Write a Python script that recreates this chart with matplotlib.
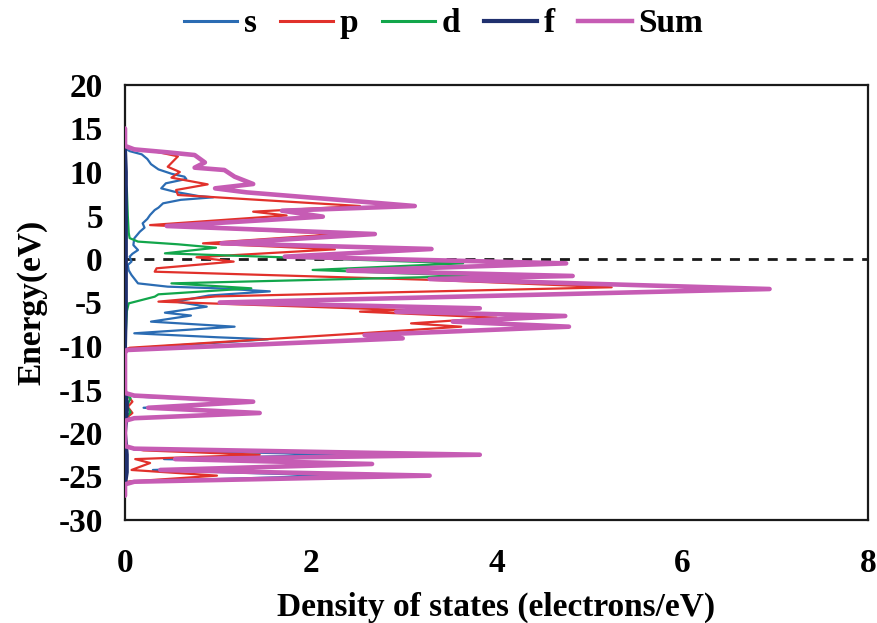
import matplotlib
matplotlib.use("Agg")
import matplotlib.pyplot as plt
from matplotlib.lines import Line2D

plt.rcParams['font.family'] = ['Liberation Serif', 'DejaVu Serif']
plt.rcParams['font.weight'] = 'bold'
plt.rcParams['axes.unicode_minus'] = False

# ---- partial densities of states (energy in eV, DOS in electrons/eV) ----
s_energy = [12.9, 12.6, 12.4, 12.03, 11.5, 10.9, 10.3, 9.8, 9.46, 9.2, 8.7, 8.12,
            7.74, 7.24, 7.09, 6.8, 6.4, 5.9, 5.63, 5.06, 4.6, 4.1, 3.6, 3.14,
            2.38, 1.6, 1.03, 0.6, 0.27, -0.3, -0.69, -1.3, -1.84, -2.8, -3.18,
            -3.37, -3.72, -4.2, -4.9, -5.48, -6.17, -6.5, -7.2, -7.78,
            -8.54, -9.0, -9.23, -10.3, -10.6,
            -15.4, -15.8, -16.4, -17.1, -17.7, -18.3, -18.6,
            -21.5, -21.9, -22.5, -23.0, -23.56, -24.25, -24.9, -25.6, -25.9]
s_dos = [0.0, 0.02, 0.05, 0.18, 0.24, 0.28, 0.36, 0.50, 0.64, 0.66, 0.44, 0.39,
         0.53, 0.79, 0.95, 0.60, 0.41, 0.36, 0.32, 0.27, 0.24, 0.19, 0.21, 0.16,
         0.10, 0.09, 0.14, 0.08, 0.05, 0.07, 0.03, 0.04, 0.07, 0.14, 0.46,
         1.0, 1.56, 0.9, 0.55, 0.88, 0.43, 0.71, 0.28, 1.18,
         0.10, 1.0, 1.54, 0.03, 0.0,
         0.0, 0.1, 1.3, 0.2, 1.35, 0.05, 0.0,
         0.0, 0.1, 2.3, 0.42, 2.5, 0.30, 2.25, 0.05, 0.0]

p_energy = [12.8, 12.3, 11.8, 10.6, 10.0, 9.35, 8.58, 7.93, 7.36, 6.09, 5.44, 5.0,
            3.9, 2.87, 1.8, 1.11, 0.2, -0.3, -1.07, -1.46, -2.4, -3.25, -4.3, -4.9,
            -5.86, -6.05, -6.74, -7.4, -7.78, -8.54, -10.2, -10.5,
            -15.5, -16.0, -16.4, -17.0, -17.7, -18.4,
            -21.6, -22.0, -22.5, -23.0, -23.45, -24.25, -24.9, -25.6, -26.0]
p_dos = [0.0, 0.35, 0.57, 0.46, 0.59, 0.50, 0.89, 0.55, 0.57, 2.53, 1.38, 1.74,
         0.27, 2.3, 0.84, 2.26, 0.77, 1.17, 0.34, 0.32, 3.3, 5.24, 0.98, 0.36,
         3.0, 2.53, 4.0, 3.08, 3.62, 2.54, 0.05, 0.0,
         0.0, 0.05, 0.08, 0.03, 0.08, 0.0,
         0.0, 0.2, 1.45, 0.11, 0.27, 0.07, 0.99, 0.02, 0.0]

d_energy = [9.0, 8.0, 5.0, 3.0, 2.4, 2.0, 1.69, 1.3, 0.65, -0.5, -1.26, -1.95,
            -2.8, -3.37, -4.06, -4.33, -5.1, -6.0, -10.4,
            -15.6, -16.0, -16.9, -17.6, -18.3]
d_dos = [0.0, 0.02, 0.03, 0.04, 0.05, 0.14, 0.57, 0.98, 0.43, 3.64, 2.02, 3.77,
         0.50, 1.36, 0.36, 0.32, 0.04, 0.02, 0.0,
         0.0, 0.06, 0.02, 0.06, 0.0]

f_energy = [12.9, 10.0, 5.0, 0.0, -5.0, -10.5, -15.0, -16.5, -17.5, -20.0,
            -22.5, -24.5, -26.0]
f_dos = [0.0, 0.01, 0.01, 0.01, 0.01, 0.0, 0.0, 0.02, 0.02, 0.0,
         0.02, 0.02, 0.0]

sum_energy = [15.0, 13.0, 12.6, 12.26, 11.95, 11.1, 10.5, 10.23, 9.46, 8.62, 8.12,
              7.66, 6.09, 5.55, 4.87, 3.79, 2.87, 1.80, 1.15, 0.27, -0.50, -1.34,
              -1.95, -2.30, -3.45, -5.00, -5.67, -6.05, -6.55, -7.20, -7.78, -8.74,
              -9.12, -10.46, -10.8,
              -15.4, -15.7, -16.4, -17.1, -17.7, -18.3, -18.6,
              -21.5, -21.8, -22.5, -23.0, -23.56, -24.25, -24.9, -25.6, -25.9, -27.2]
sum_dos = [0.0, 0.0, 0.1, 0.46, 0.75, 0.86, 0.75, 1.07, 1.18, 1.38, 0.97,
           1.31, 3.12, 1.69, 2.13, 0.45, 2.69, 1.04, 3.30, 1.72, 4.75, 2.40,
           4.82, 3.28, 6.94, 1.02, 3.82, 2.92, 4.74, 3.53, 4.78, 2.58,
           2.99, 0.02, 0.0,
           0.0, 0.1, 1.38, 0.25, 1.45, 0.1, 0.0,
           0.0, 0.1, 3.82, 0.54, 2.66, 0.38, 3.28, 0.1, 0.0, 0.0]

x_ticks = [0, 2, 4, 6, 8]
y_ticks = [20, 15, 10, 5, 0, -5, -10, -15, -20, -25, -30]

colors = {'s': '#2b6cb3', 'p': '#e1312b', 'd': '#12a64b', 'f': '#20306e',
          'Sum': '#c65cb4'}

fig = plt.figure(figsize=(8.78, 6.23), dpi=100)
ax = fig.add_axes([125 / 878, 1 - 520 / 623, (868 - 125) / 878, (520 - 85) / 623])

kw = dict(solid_joinstyle='round', solid_capstyle='round')
ax.axhline(0, color='#1a1a1a', lw=2.0, ls=(0, (3.6, 3.2)), zorder=1)
ax.plot(s_dos, s_energy, color=colors['s'], lw=1.6, zorder=2, **kw)
ax.plot(p_dos, p_energy, color=colors['p'], lw=1.6, zorder=2, **kw)
ax.plot(d_dos, d_energy, color=colors['d'], lw=1.6, zorder=2, **kw)
ax.plot(f_dos, f_energy, color=colors['f'], lw=2.8, zorder=3, **kw)
ax.plot(sum_dos, sum_energy, color=colors['Sum'], lw=3.3, zorder=4, **kw)

ax.set_xlim(0, 8)
ax.set_ylim(-30, 20)
ax.set_xticks(x_ticks)
ax.set_yticks(y_ticks)
ax.tick_params(length=0, labelsize=24, pad=20)
ax.tick_params(axis='y', pad=16)
for lab in ax.get_xticklabels() + ax.get_yticklabels():
    lab.set_fontweight('bold')
for sp in ax.spines.values():
    sp.set_linewidth(1.6)
    sp.set_color('#1a1a1a')

ax.set_xlabel('Density of states (electrons/eV)', fontsize=24, fontweight='bold',
              labelpad=9)
ax.set_ylabel('Energy(eV)', fontsize=24, fontweight='bold', labelpad=8)

handles = [Line2D([], [], color=colors['s'], lw=2.2),
           Line2D([], [], color=colors['p'], lw=2.2),
           Line2D([], [], color=colors['d'], lw=2.2),
           Line2D([], [], color=colors['f'], lw=3.0),
           Line2D([], [], color=colors['Sum'], lw=3.2)]
fig.legend(handles, ['s', 'p', 'd', 'f', 'Sum'], loc='center',
           bbox_to_anchor=(0.505, 0.962), ncol=5, frameon=False,
           prop={'family': 'Liberation Serif', 'weight': 'bold', 'size': 24},
           handlelength=1.6, handletextpad=0.2, columnspacing=0.7)

fig.savefig('out.png', dpi=100)
